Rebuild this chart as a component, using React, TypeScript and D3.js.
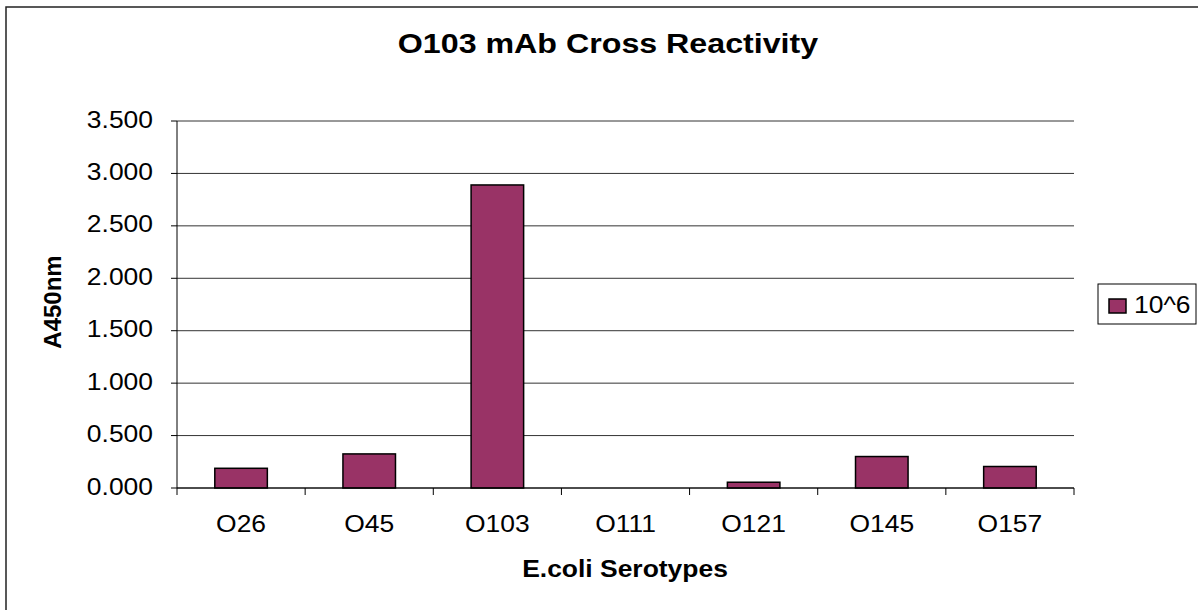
import React from 'react';
import * as d3 from 'd3';

// chart data
const serotypes = ['O26', 'O45', 'O103', 'O111', 'O121', 'O145', 'O157'];
const a450 = [0.188, 0.325, 2.89, 0, 0.055, 0.3, 0.205];
const yTicks = [0, 0.5, 1, 1.5, 2, 2.5, 3, 3.5];
const seriesName = '10^6';

const W = 1198;
const H = 610;
const margin = { top: 121, right: 124, bottom: 122, left: 177 };
const SX = 1.15; // the original is stretched a bit horizontally

const App: React.FC = () => {
  const innerW = W - margin.left - margin.right;
  const innerH = H - margin.top - margin.bottom;

  const x = d3.scaleBand()
    .domain(serotypes)
    .range([margin.left, margin.left + innerW])
    .paddingInner(0.59)
    .paddingOuter(0.295);

  const y = d3.scaleLinear()
    .domain([0, 3.5])
    .range([margin.top + innerH, margin.top]);

  const fmt = d3.format('.3f');
  const step = x.step();
  const font = 'Liberation Sans, Arial, sans-serif';

  // text helper with the horizontal stretch
  const label = (tx: number, ty: number, s: string, size: number, anchor: string, bold = false) => (
    <g transform={`translate(${tx},${ty}) scale(${SX},1)`}>
      <text fontSize={size} textAnchor={anchor} fontWeight={bold ? 'bold' : 'normal'} fontFamily={font} fill="#000">
        {s}
      </text>
    </g>
  );

  const y0 = y(0);
  const boundaries = d3.range(serotypes.length + 1).map((i) => margin.left + i * step);

  return (
    <svg width={W} height={H} style={{ position: 'absolute', left: 0, top: 0, background: '#fff' }}>
      <rect x={0} y={0} width={W} height={H} fill="#fff" />
      {/* outer frame */}
      <rect x={6} y={7} width={W + 20} height={H + 20} fill="none" stroke="#222" strokeWidth={1.5} />

      {/* title */}
      {label(608, 53, 'O103 mAb Cross Reactivity', 28, 'middle', true)}

      {/* gridlines */}
      {yTicks.map((t) => (
        <line key={'g' + t} x1={margin.left} x2={margin.left + innerW} y1={y(t)} y2={y(t)} stroke="#333" strokeWidth={1} />
      ))}

      {/* y axis */}
      <line x1={margin.left} x2={margin.left} y1={margin.top} y2={y0} stroke="#000" strokeWidth={1} />
      {yTicks.map((t) => (
        <g key={'yt' + t}>
          <line x1={margin.left - 6} x2={margin.left} y1={y(t)} y2={y(t)} stroke="#000" />
          {label(153, y(t) + 6.5, fmt(t), 23, 'end')}
        </g>
      ))}

      {/* bars */}
      {serotypes.map((s, i) =>
        a450[i] > 0 ? (
          <rect
            key={s}
            x={x(s)!}
            y={y(a450[i])}
            width={x.bandwidth()}
            height={y0 - y(a450[i])}
            fill="#993366"
            stroke="#000"
            strokeWidth={1.5}
          />
        ) : null
      )}

      {/* x axis */}
      <line x1={margin.left} x2={margin.left + innerW} y1={y0} y2={y0} stroke="#000" strokeWidth={1} />
      {boundaries.map((bx, i) => (
        <line key={'xt' + i} x1={bx} x2={bx} y1={y0} y2={y0 + 7} stroke="#000" />
      ))}
      {serotypes.map((s) => (
        <g key={'xl' + s}>{label(x(s)! + x.bandwidth() / 2, 532, s, 23, 'middle')}</g>
      ))}

      {/* axis titles */}
      {label(625, 577, 'E.coli Serotypes', 23, 'middle', true)}
      <text
        transform={`translate(61,302) rotate(-90)`}
        fontSize={24}
        fontWeight="bold"
        textAnchor="middle"
        fontFamily={font}
      >
        A450nm
      </text>

      {/* legend */}
      <rect x={1098} y={284} width={98} height={40} fill="#fff" stroke="#000" strokeWidth={1} />
      <rect x={1109} y={299} width={17} height={14} fill="#993366" stroke="#000" strokeWidth={1.5} />
      {label(1134, 313, seriesName, 23, 'start')}
    </svg>
  );
};

export default App;
